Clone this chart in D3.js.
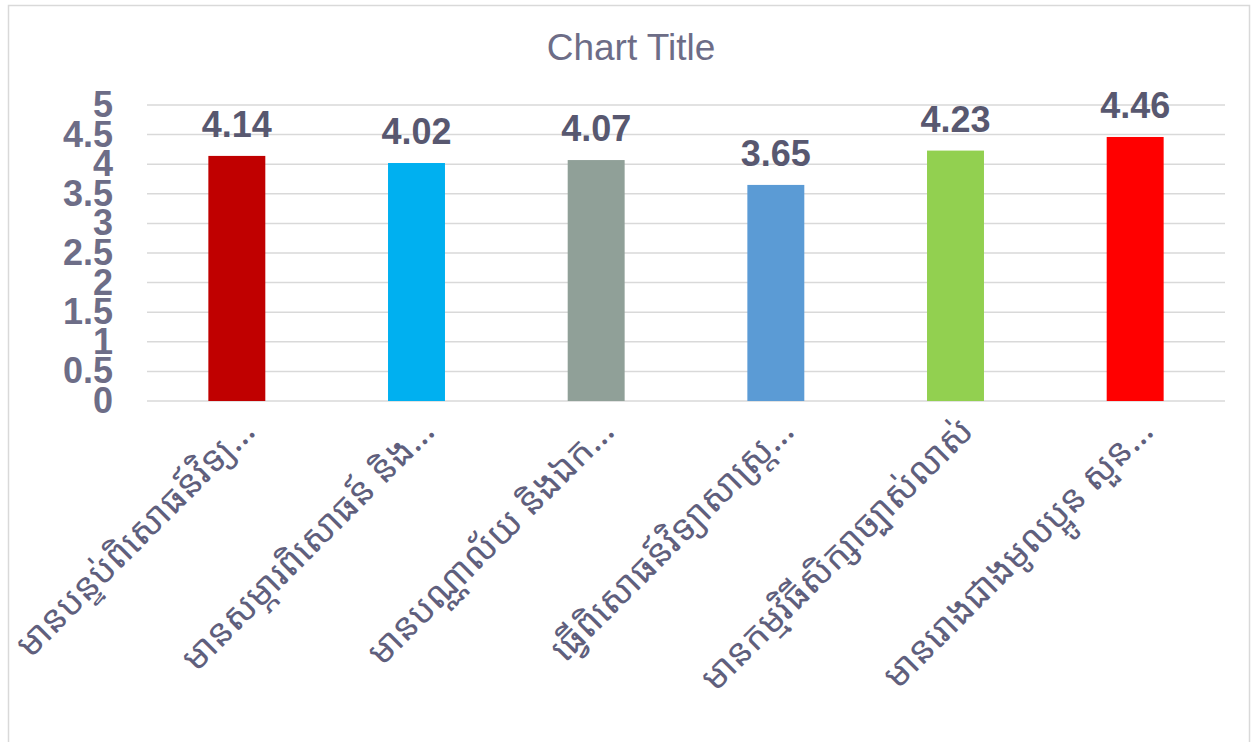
<!DOCTYPE html>
<html>
<head>
<meta charset="utf-8">
<script src="https://cdn.jsdelivr.net/npm/d3@7"></script>
<style>
  html, body { margin: 0; padding: 0; background: #ffffff; }
  svg { display: block; }
</style>
</head>
<body>
<svg id="chart" width="1255" height="742"></svg>
<script>
const categories = [
  "មានបន្ទប់ពិសោធន៍វិទ្យ…",
  "មានសម្ភារពិសោធន៍ និង…",
  "មានបណ្ណាល័យ និងឯក…",
  "ធ្វើពិសោធន៍វិទ្យាសាស្ត្រ…",
  "មានកម្មវិធីសិក្សាច្បាស់លាស់",
  "មានរោងជាងមូលប្អូន សួន…"
];
const values = [4.14, 4.02, 4.07, 3.65, 4.23, 4.46];
const barColors = ["#C00000", "#00B0F0", "#90A098", "#5B9BD5", "#92D050", "#FF0000"];
const yTicks = [0, 0.5, 1, 1.5, 2, 2.5, 3, 3.5, 4, 4.5, 5];
const chartTitle = "Chart Title";

const svg = d3.select("#chart");
const W = 1255, H = 742;
const plot = { left: 147, right: 1225, top: 105, bottom: 401 };

// chart border
svg.append("rect")
  .attr("x", 8.5).attr("y", 5.5)
  .attr("width", W - 14).attr("height", H + 20)
  .attr("fill", "#ffffff")
  .attr("stroke", "#d9d9d9").attr("stroke-width", 1.5);

const x = d3.scaleBand().domain(categories).range([plot.left, plot.right]).padding(0);
const y = d3.scaleLinear().domain([0, 5]).range([plot.bottom, plot.top]);

// gridlines
svg.append("g")
  .selectAll("line").data(yTicks).join("line")
  .attr("x1", plot.left).attr("x2", plot.right)
  .attr("y1", d => y(d)).attr("y2", d => y(d))
  .attr("stroke", "#d9d9d9").attr("stroke-width", 1.5);

// y axis labels
const yAxis = d3.axisLeft(y).tickValues(yTicks).tickSize(0).tickPadding(34)
  .tickFormat(d => String(d));
const gy = svg.append("g").attr("transform", `translate(${plot.left},0)`).call(yAxis);
gy.select(".domain").remove();
gy.selectAll("text")
  .attr("font-family", "Liberation Sans, Arial, sans-serif")
  .attr("font-size", 36).attr("font-weight", "bold")
  .attr("fill", "#6d6d87");

// bars
const barW = x.bandwidth() * 0.317;
svg.append("g").selectAll("rect").data(values).join("rect")
  .attr("x", (d, i) => x(categories[i]) + x.bandwidth() / 2 - barW / 2)
  .attr("width", barW)
  .attr("y", d => y(d))
  .attr("height", d => y(0) - y(d))
  .attr("fill", (d, i) => barColors[i]);

// data labels
svg.append("g").selectAll("text").data(values).join("text")
  .attr("x", (d, i) => x(categories[i]) + x.bandwidth() / 2)
  .attr("y", d => y(d) - 19)
  .attr("text-anchor", "middle")
  .attr("font-family", "Liberation Sans, Arial, sans-serif")
  .attr("font-size", 36).attr("font-weight", "bold")
  .attr("fill", "#585870")
  .text(d => d.toFixed(2));

// category labels
svg.append("g").selectAll("text").data(categories).join("text")
  .attr("transform", d => `translate(${x(d) + x.bandwidth() / 2 + 20},${plot.bottom + 32}) rotate(-45)`)
  .attr("text-anchor", "end")
  .attr("font-family", "'Noto Sans Khmer', 'Khmer OS', 'Noto Sans', 'DejaVu Sans', sans-serif")
  .attr("font-size", 36)
  .attr("fill", "#5f5f7d")
  .text(d => d);

// title
svg.append("text")
  .attr("x", 631).attr("y", 60)
  .attr("text-anchor", "middle")
  .attr("font-family", "Liberation Sans, Arial, sans-serif")
  .attr("font-size", 37)
  .attr("fill", "#6d6d87")
  .text(chartTitle);
</script>
</body>
</html>
